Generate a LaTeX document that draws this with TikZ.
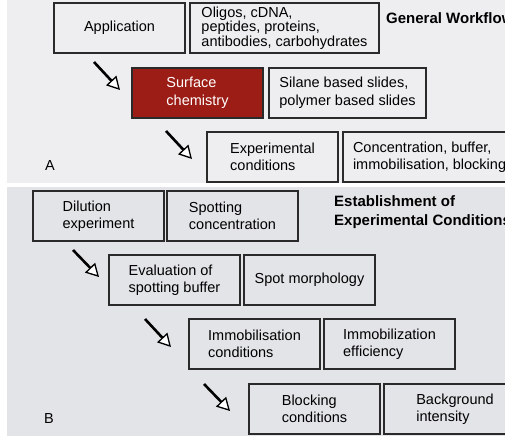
\documentclass[tikz,border=0pt]{standalone}
\usepackage{fontspec}
\setmainfont{Liberation Sans}
\usetikzlibrary{positioning}
\usetikzlibrary{arrows.meta}
\definecolor{panela}{HTML}{EEEEF0}
\definecolor{panelb}{HTML}{E3E4E8}
\definecolor{chemred}{HTML}{9C1D15}
\definecolor{boxline}{HTML}{2A2A2A}
\tikzset{
  wbox/.style={
    rectangle,
    draw=boxline,
    line width=1.3pt,
    minimum width=131pt,
    minimum height=50pt,
    inner sep=0,
    outer sep=0,
    align=left,
    font=\fontsize{14.5}{17.5}\selectfont,
  },
  wred/.style={
    wbox,
    fill=chemred,
    text=white,
  },
  tight/.style={
    font=\fontsize{14.5}{13.5}\selectfont,
  },
  headline/.style={
    anchor=west,
    align=left,
    inner sep=0,
    font=\fontsize{15}{19}\selectfont\bfseries,
  },
  darr/.style={
    line width=2.6pt,
    -{Triangle[length=13pt,width=14pt,fill=white,line width=1.3pt]},
  },
}

\begin{document}
\begin{tikzpicture}[x=1pt,y=-1pt]
  \useasboundingbox (0,0) rectangle (505,436);
  \clip (0,0) rectangle (505,436);

  % panel A
  \fill[panela] (7,0) rectangle (505,183);

  \node[wbox,anchor=north west] at (54,3) (app) {Application};
  \node[wbox,tight,minimum width=189pt,right=5pt of app] (mol) {Oligos, cDNA,\\peptides, proteins,\\antibodies, carbohydrates};

  \node[wred,anchor=north west] at (132,68) (surf) {Surface\\chemistry};
  \node[wbox,minimum width=157pt,right=6pt of surf] (slide) {Silane based slides,\\polymer based slides};

  \node[wbox,anchor=north west] at (207,132) (expc) {Experimental\\conditions};
  \node[wbox,minimum width=0pt,inner xsep=10pt,right=5pt of expc] (conc) {Concentration, buffer,\\immobilisation, blocking};

  \node[headline] at (386,18) (gw) {General Workflow};
  \node[font=\fontsize{14.5}{17.5}\selectfont] at (50,166) (la) {A};

  \draw[darr] ([shift={(40,9)}]app.south west) -- ([shift={(-12,-3)}]surf.west);
  \draw[darr] ([shift={(34,13)}]surf.south west) -- ([shift={(-15,2)}]expc.west);

  % panel B
  \fill[panelb] (7,187) rectangle (505,436);

  \node[wbox,anchor=north west] at (33,191) (dil) {Dilution\\experiment};
  \node[wbox,right=3pt of dil] (spc) {Spotting\\concentration};

  \node[wbox,anchor=north west] at (109,255) (eval) {Evaluation of\\spotting buffer};
  \node[wbox,right=4pt of eval] (morph) {Spot morphology};

  \node[wbox,anchor=north west] at (189,319) (immc) {Immobilisation\\conditions};
  \node[wbox,right=4pt of immc] (imme) {Immobilization\\efficiency};

  \node[wbox,anchor=north west] at (249,384) (blk) {Blocking\\conditions};
  \node[wbox,minimum width=142pt,right=4pt of blk] (bgi) {Background\\intensity};

  \node[headline] at (334,212) (est) {Establishment of\\Experimental Conditions};
  \node[font=\fontsize{14.5}{17.5}\selectfont] at (49,419) (lb) {B};

  \draw[darr] ([shift={(40,9)}]dil.south west) -- ([shift={(-10,-3)}]eval.west);
  \draw[darr] ([shift={(36,14)}]eval.south west) -- ([shift={(-18,3)}]immc.west);
  \draw[darr] ([shift={(15,15)}]immc.south west) -- ([shift={(-19,2)}]blk.west);
\end{tikzpicture}
\end{document}
